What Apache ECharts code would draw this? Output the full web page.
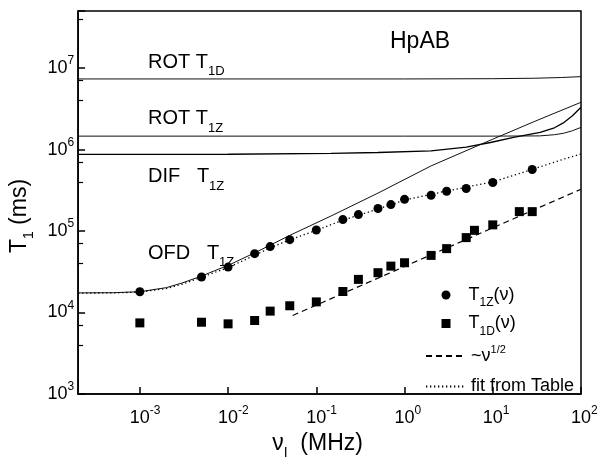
<!DOCTYPE html>
<html>
<head>
<meta charset="utf-8">
<script src="https://cdn.jsdelivr.net/npm/echarts@6/dist/echarts.min.js"></script>
<style>html,body{margin:0;padding:0;background:#fff}#c{width:601px;height:466px}</style>
</head>
<body>
<div id="c"></div>
<script>
// ---- data (frequency in MHz, T1 in ms) ----
const nuT1Z  = [0.001, 0.005, 0.01, 0.02, 0.03, 0.05, 0.1, 0.2, 0.3, 0.5, 0.7, 1, 2, 3, 5, 10, 28];
const valT1Z = [1.80e4, 2.73e4, 3.61e4, 5.27e4, 6.44e4, 7.83e4, 1.03e5, 1.38e5, 1.59e5, 1.89e5, 2.11e5, 2.45e5, 2.75e5, 3.08e5, 3.32e5, 3.94e5, 5.69e5];

const nuT1D  = [0.001, 0.005, 0.01, 0.02, 0.03, 0.05, 0.1, 0.2, 0.3, 0.5, 0.7, 1, 2, 3, 5, 6.2, 10, 20, 28];
const valT1D = [7.46e3, 7.6e3, 7.26e3, 7.98e3, 1.04e4, 1.21e4, 1.35e4, 1.81e4, 2.55e4, 3.08e4, 3.71e4, 4.08e4, 5.02e4, 6.08e4, 8.30e4, 1.02e5, 1.19e5, 1.73e5, 1.73e5];

const rotT1D_nu  = [2e-4, 1, 10, 30, 60, 100];
const rotT1D_val = [7.35e6, 7.35e6, 7.4e6, 7.5e6, 7.65e6, 7.85e6];

const rotT1Z_nu  = [2e-4, 1, 10, 34, 50, 63, 80, 100];
const rotT1Z_val = [1.46e6, 1.46e6, 1.46e6, 1.47e6, 1.52e6, 1.58e6, 1.7e6, 1.87e6];

const difT1Z_nu  = [2e-4, 0.01, 0.147, 0.5, 2, 5, 9.4, 17.2, 34.4, 50, 63, 80, 100];
const difT1Z_val = [8.7e5, 8.75e5, 8.95e5, 9.2e5, 9.64e5, 1.07e6, 1.22e6, 1.41e6, 1.62e6, 1.85e6, 2.12e6, 2.6e6, 3.3e6];

const ofd_nu  = [2e-4, 5e-4, 1e-3, 2e-3, 3e-3, 5e-3, 7e-3, 0.01, 0.02, 0.03, 0.05, 0.147, 0.5, 2, 10, 30, 100];
const ofd_val = [1.74e4, 1.75e4, 1.8e4, 2.02e4, 2.3e4, 2.8e4, 3.25e4, 3.78e4, 5.4e4, 6.7e4, 8.85e4, 1.53e5, 2.92e5, 6.3e5, 1.34e6, 2.22e6, 3.8e6];

const fit_nu  = [2e-4, 5e-4, 1e-3, 2e-3, 3e-3, 5e-3, 7e-3, 0.01, 0.02, 0.03, 0.05, 0.1, 0.2, 0.5, 1, 3, 10, 28, 63, 100];
const fit_val = [1.73e4, 1.74e4, 1.78e4, 1.97e4, 2.22e4, 2.7e4, 3.1e4, 3.55e4, 5.05e4, 6.2e4, 7.8e4, 1.02e5, 1.36e5, 1.86e5, 2.4e5, 3.1e5, 4.0e5, 5.7e5, 7.6e5, 8.8e5];

const sqrt_nu  = [0.054, 100];
const sqrt_val = [9.2e3, 3.26e5];

// ---- chart ----
const FONT = '"Liberation Sans", Arial, Helvetica, sans-serif';
const zip = (a, b) => a.map((v, i) => [v, b[i]]);

function powExp(v) {
  const e = Math.log10(v), r = Math.round(e);
  return Math.abs(e - r) < 1e-6 ? r : null;
}
const richNum = {
  b:   {fontSize: 18, lineHeight: 30, fontFamily: FONT, color: '#000'},
  sup: {fontSize: 12, lineHeight: 12, verticalAlign: 'top', padding: [2, 0, 0, 0], fontFamily: FONT, color: '#000'},
  h:   {fontSize: 12, lineHeight: 12, verticalAlign: 'top', padding: [2, 0, 0, 0], fontFamily: FONT, color: 'rgba(0,0,0,0)'}
};
const richAnn = {
  b:   {fontSize: 20, lineHeight: 32, fontFamily: FONT, color: '#000'},
  sub: {fontSize: 13, lineHeight: 13, verticalAlign: 'bottom', fontFamily: FONT, color: '#000'}
};
const richLeg = {
  b:   {fontSize: 18, lineHeight: 30, fontFamily: FONT, color: '#000'},
  sub: {fontSize: 12, lineHeight: 12, verticalAlign: 'bottom', padding: [0, 0, 1, 0], fontFamily: FONT, color: '#000'},
  sup: {fontSize: 11, lineHeight: 11, verticalAlign: 'top', padding: [3, 0, 0, 0], fontFamily: FONT, color: '#000'},
  gap: {width: 13, fontSize: 18, lineHeight: 30}
};
const richName = {
  b:   {fontSize: 23, lineHeight: 34, fontFamily: FONT, color: '#000'},
  sub: {fontSize: 14, lineHeight: 14, verticalAlign: 'bottom', fontFamily: FONT, color: '#000'}
};

const legendText = {
  T1Z: '{gap| }{b|T}{sub|1Z}{b|(ν)}',
  T1D: '{gap| }{b|T}{sub|1D}{b|(ν)}',
  nu:  '{b|~ν}{sup|1/2}',
  fit: '{b|fit from Table}'
};
function mkLegend(name, left, centerY, w) {
  return {
    data: [name], left: left, top: centerY - 15, orient: 'vertical', padding: 0,
    itemWidth: w, itemHeight: 9, selectedMode: false,
    formatter: n => legendText[n],
    textStyle: {fontSize: 18, lineHeight: 30, fontFamily: FONT, color: '#000', rich: richLeg}
  };
}

const NOFILL = 'rgba(0,0,0,0)';
const lineBase = {type: 'line', symbol: 'none', showSymbol: false, silent: true, smooth: false, z: 3,
  itemStyle: {color: NOFILL, opacity: 0}};

const chart = echarts.init(document.getElementById('c'), null, {renderer: 'canvas'});
chart.setOption({
  animation: false,
  backgroundColor: '#fff',
  textStyle: {fontFamily: FONT, color: '#000'},
  grid: {left: 76, right: 20, top: 11, bottom: 72, show: true,
         borderColor: '#000', borderWidth: 1.5, backgroundColor: 'rgba(0,0,0,0)'},
  xAxis: {
    type: 'log', logBase: 10, min: Math.pow(10, -3.7), max: 100,
    axisLine: {lineStyle: {color: '#000', width: 1.5}},
    axisTick: {inside: true, length: 7, lineStyle: {color: '#000', width: 1.5}},
    minorTick: {show: false},
    splitLine: {show: false},
    axisLabel: {
      margin: 9, color: '#000', fontSize: 18, fontFamily: FONT, showMinLabel: false,
      formatter: v => { const r = powExp(v); return r === null ? '' : '{h|' + r + '}{b|10}{sup|' + r + '}'; },
      rich: richNum
    },
    name: '{b|ν}{sub|I}{b|  (MHz)}', nameLocation: 'middle', nameGap: 32,
    nameTextStyle: {fontSize: 23, fontFamily: FONT, color: '#000', rich: richName, padding: [0, 24, 0, 0]}
  },
  yAxis: {
    type: 'log', logBase: 10, min: 1000, max: Math.pow(10, 7.7),
    axisLine: {lineStyle: {color: '#000', width: 1.5}},
    axisTick: {inside: true, length: 7, lineStyle: {color: '#000', width: 1.5}},
    minorTick: {show: true, splitNumber: 3, length: 5, lineStyle: {color: '#000', width: 1.2}},
    splitLine: {show: false},
    axisLabel: {
      margin: 4, color: '#000', fontSize: 18, fontFamily: FONT,
      formatter: v => { const r = powExp(v); return r === null ? '' : '{b|10}{sup|' + r + '}'; },
      rich: richNum
    },
    name: '{b|T}{sub|1}{b| (ms)}', nameLocation: 'middle', nameGap: 38,
    nameTextStyle: {fontSize: 23, fontFamily: FONT, color: '#000', rich: richName, padding: [0, 27, 0, 0]}
  },
  legend: [
    mkLegend('T1Z', 441.5, 295, 9),
    mkLegend('T1D', 441.5, 323.5, 9),
    mkLegend('nu', 425, 356, 40),
    mkLegend('fit', 425, 386.5, 40)
  ],
  graphic: [
    {type: 'text', x: 148, y: 62, style: {text: '{b|ROT T}{sub|1D}', rich: richAnn, verticalAlign: 'middle', align: 'left'}},
    {type: 'text', x: 148, y: 118.5, style: {text: '{b|ROT T}{sub|1Z}', rich: richAnn, verticalAlign: 'middle', align: 'left'}},
    {type: 'text', x: 148, y: 176.5, style: {text: '{b|DIF   T}{sub|1Z}', rich: richAnn, verticalAlign: 'middle', align: 'left'}},
    {type: 'text', x: 148, y: 253, style: {text: '{b|OFD   T}{sub|1Z}', rich: richAnn, verticalAlign: 'middle', align: 'left'}},
    {type: 'text', x: 390, y: 42, style: {text: 'HpAB', fontSize: 23, fontFamily: FONT, fill: '#000', verticalAlign: 'middle', align: 'left'}}
  ],
  series: [
    Object.assign({}, lineBase, {name: 'rotT1D', data: zip(rotT1D_nu, rotT1D_val), lineStyle: {color: '#111', width: 1}}),
    Object.assign({}, lineBase, {name: 'rotT1Z', data: zip(rotT1Z_nu, rotT1Z_val), lineStyle: {color: '#111', width: 1}}),
    Object.assign({}, lineBase, {name: 'difT1Z', data: zip(difT1Z_nu, difT1Z_val), lineStyle: {color: '#000', width: 1.3}}),
    Object.assign({}, lineBase, {name: 'ofdT1Z', data: zip(ofd_nu, ofd_val), lineStyle: {color: '#111', width: 1}}),
    Object.assign({}, lineBase, {name: 'fit', data: zip(fit_nu, fit_val),
      lineStyle: {color: '#000', width: 1.3, type: [1.3, 2.7]}}),
    Object.assign({}, lineBase, {name: 'nu', data: zip(sqrt_nu, sqrt_val),
      lineStyle: {color: '#000', width: 1.2, type: [6, 4]}}),
    {type: 'scatter', name: 'T1Z', symbol: 'circle', symbolSize: 9, z: 5,
     itemStyle: {color: '#000', opacity: 1}, data: zip(nuT1Z, valT1Z)},
    {type: 'scatter', name: 'T1D', symbol: 'rect', symbolSize: 9, z: 5,
     itemStyle: {color: '#000', opacity: 1}, data: zip(nuT1D, valT1D)}
  ]
});
</script>
</body>
</html>
